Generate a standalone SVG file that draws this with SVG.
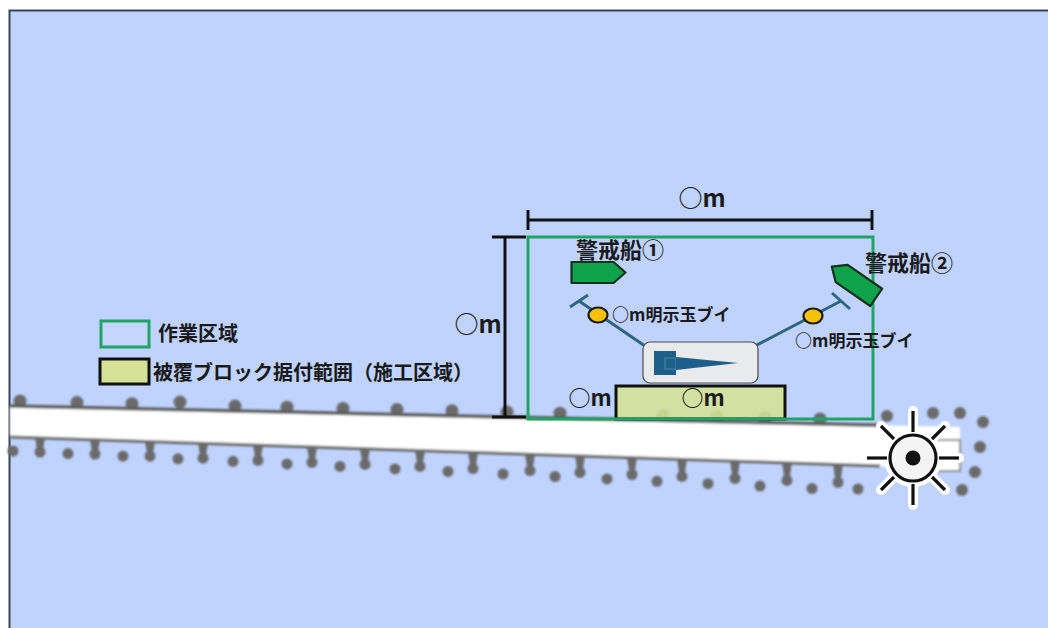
<svg xmlns="http://www.w3.org/2000/svg" width="1048" height="628" viewBox="0 0 1048 628">
  <style>
    .jp { font-family: "Noto Sans CJK JP", "Noto Sans", sans-serif; fill: #1a1a1a; font-weight: 700; }
    .dim { stroke: #111; stroke-width: 3; fill: none; }
    .dot { fill: #6b6b6b; }
    .anchor { stroke: #2e6580; stroke-width: 3; fill: none; }
    .buoy { fill: #f6c10a; stroke: #1a1a1a; stroke-width: 2.2; }
    .ship { fill: #0fa24b; stroke: #15301d; stroke-width: 2.2; stroke-linejoin: round; }
  </style>
  <defs>
    <!-- patrol boat hull, bow pointing +x, centred on origin -->
    <polygon id="boat" points="-27,-10.5 15,-10.5 27,0 15,10.5 -27,10.5"/>
    <filter id="soft" x="-5%" y="-20%" width="110%" height="140%">
      <feGaussianBlur stdDeviation="0.8"/>
    </filter>
  </defs>

  <!-- sea and frame -->
  <rect x="0" y="0" width="1048" height="628" fill="#ffffff"/>
  <rect x="9" y="10" width="1039" height="618" fill="#bfd3fe"/>
  <path d="M9.5 628 V10.5 H1048" fill="none" stroke="#3b4758" stroke-width="2"/>

  <!-- breakwater -->
  <g id="breakwater" filter="url(#soft)">
    <!-- armour units along the outer face -->
    <g class="dot">
      <circle cx="20" cy="401" r="6.5"/>
      <circle cx="77" cy="402.5" r="6.5"/>
      <circle cx="132" cy="403.7" r="6.5"/>
      <circle cx="180" cy="402" r="6.5"/>
      <circle cx="235" cy="406" r="6.5"/>
      <circle cx="287" cy="407.2" r="6.5"/>
      <circle cx="343" cy="408.4" r="6.5"/>
      <circle cx="397" cy="409.6" r="6.5"/>
      <circle cx="452" cy="410.8" r="6.5"/>
      <circle cx="507" cy="412" r="6.5"/>
      <circle cx="560" cy="413.2" r="6.5"/>
      <circle cx="663" cy="415.4" r="6.5"/>
      <circle cx="717" cy="416.6" r="6.5"/>
      <circle cx="765" cy="417.7" r="6.5"/>
      <circle cx="820" cy="418.9" r="6.5"/>
      <circle cx="887" cy="416" r="6"/>
      <circle cx="933" cy="413" r="6"/>
      <circle cx="960" cy="413" r="6"/>
      <circle cx="983" cy="422" r="6"/>
      <circle cx="980" cy="447" r="6"/>
      <circle cx="975" cy="472" r="6"/>
      <circle cx="962" cy="490" r="6"/>
    </g>
    <!-- armour units along the inner face -->
    <g class="dot">
      <path d="M35,438 H45 L42.5,452 H37.5 Z"/><circle cx="40" cy="452" r="5.5"/>
      <path d="M90,440 H100 L97.5,454 H92.5 Z"/><circle cx="95" cy="454" r="5.5"/>
      <path d="M145,442 H155 L152.5,456 H147.5 Z"/><circle cx="150" cy="456.2" r="5.5"/>
      <path d="M198,443.5 H208 L205.5,458 H200.5 Z"/><circle cx="203" cy="458.2" r="5.5"/>
      <path d="M253,445 H263 L260.5,460 H255.5 Z"/><circle cx="258" cy="460.3" r="5.5"/>
      <path d="M307,447 H317 L314.5,462 H309.5 Z"/><circle cx="312" cy="462.3" r="5.5"/>
      <path d="M360,449 H370 L367.5,464 H362.5 Z"/><circle cx="365" cy="464.4" r="5.5"/>
      <path d="M415,450.5 H425 L422.5,466 H417.5 Z"/><circle cx="420" cy="466.4" r="5.5"/>
      <path d="M468,452 H478 L475.5,468 H470.5 Z"/><circle cx="473" cy="468.5" r="5.5"/>
      <path d="M525,454 H535 L532.5,470 H527.5 Z"/><circle cx="530" cy="470.6" r="5.5"/>
      <path d="M575,455.5 H585 L582.5,472 H577.5 Z"/><circle cx="580" cy="472.5" r="5.5"/>
      <path d="M627,457 H637 L634.5,474 H629.5 Z"/><circle cx="632" cy="474.5" r="5.5"/>
      <path d="M677,458.5 H687 L684.5,476 H679.5 Z"/><circle cx="682" cy="476.4" r="5.5"/>
      <path d="M730,460.5 H740 L737.5,478 H732.5 Z"/><circle cx="735" cy="478.4" r="5.5"/>
      <path d="M782,462 H792 L789.5,480 H784.5 Z"/><circle cx="787" cy="480.4" r="5.5"/>
      <path d="M833,463.5 H843 L840.5,482 H835.5 Z"/><circle cx="838" cy="482.3" r="5.5"/>
    </g>
    <!-- toe blocks -->
    <g class="dot">
      <circle cx="13" cy="451" r="5.5"/>
      <circle cx="68" cy="453.6" r="5.5"/>
      <circle cx="123" cy="456.2" r="5.5"/>
      <circle cx="178" cy="458.8" r="5.5"/>
      <circle cx="233" cy="461.3" r="5.5"/>
      <circle cx="287" cy="463.9" r="5.5"/>
      <circle cx="340" cy="466.4" r="5.5"/>
      <circle cx="395" cy="468.9" r="5.5"/>
      <circle cx="448" cy="471.4" r="5.5"/>
      <circle cx="503" cy="474" r="5.5"/>
      <circle cx="555" cy="476.5" r="5.5"/>
      <circle cx="607" cy="478.9" r="5.5"/>
      <circle cx="657" cy="481.3" r="5.5"/>
      <circle cx="708" cy="483.7" r="5.5"/>
      <circle cx="760" cy="486.1" r="5.5"/>
      <circle cx="812" cy="488.6" r="5.5"/>
      <circle cx="858" cy="489" r="5.5"/>
    </g>
    <!-- crown -->
    <polygon points="10,406 960,427 960,469 10,437" fill="#ffffff"/>
    <line x1="10" y1="406" x2="880" y2="425.3" stroke="#5c5c5c" stroke-width="3.5"/>
    <line x1="10" y1="437" x2="880" y2="466" stroke="#6a6a6a" stroke-width="3"/>
    <rect x="930" y="440" width="30" height="31" fill="#ffffff" stroke="#8a8a8a" stroke-width="2"/>
  </g>

  <!-- lighthouse at the head of the breakwater -->
  <g id="lighthouse" transform="translate(913,458)">
    <g stroke="#ffffff" stroke-width="10" stroke-linecap="round" fill="#ffffff">
      <circle r="24"/>
      <line x1="0" y1="-27" x2="0" y2="-47"/>
      <line x1="0" y1="27" x2="0" y2="47"/>
      <line x1="-27" y1="0" x2="-46" y2="0"/>
      <line x1="27" y1="0" x2="46" y2="0"/>
      <line x1="-20" y1="-20" x2="-32" y2="-32"/>
      <line x1="20" y1="-20" x2="32" y2="-32"/>
      <line x1="-20" y1="20" x2="-32" y2="32"/>
      <line x1="20" y1="20" x2="32" y2="32"/>
    </g>
    <g stroke="#111" stroke-width="3.2" fill="none">
      <circle r="23" fill="#f4f4f4"/>
      <line x1="0" y1="-26" x2="0" y2="-47"/>
      <line x1="0" y1="26" x2="0" y2="47"/>
      <line x1="-26" y1="0" x2="-46" y2="0"/>
      <line x1="26" y1="0" x2="46" y2="0"/>
      <line x1="-19" y1="-19" x2="-32" y2="-32"/>
      <line x1="19" y1="-19" x2="32" y2="-32"/>
      <line x1="-19" y1="19" x2="-32" y2="32"/>
      <line x1="19" y1="19" x2="32" y2="32"/>
    </g>
    <circle r="7.5" fill="#111"/>
  </g>

  <!-- block placement area -->
  <g id="placement-area">
    <rect x="616" y="386" width="169" height="33" fill="#d5e195" fill-opacity="0.88" stroke="#111" stroke-width="3"/>
    <text class="jp" x="703" y="406" font-size="22" text-anchor="middle">○m</text>
  </g>
  <text class="jp" x="590" y="406" font-size="22" text-anchor="middle">○m</text>

  <!-- work area -->
  <rect id="work-area" x="528" y="237" width="345" height="182" fill="none" stroke="#1fa463" stroke-width="3"/>

  <!-- dimensions -->
  <g id="dimensions">
    <path class="dim" d="M528 220 H872 M528 210 V230 M872 210 V230"/>
    <text class="jp" x="702" y="207" font-size="24" text-anchor="middle">○m</text>
    <path class="dim" d="M505 237 V417 M492 237 H526 M492 417 H526"/>
    <text class="jp" x="478" y="333" font-size="24" text-anchor="middle">○m</text>
  </g>

  <!-- mooring lines -->
  <g id="connectors">
    <line class="anchor" x1="645" y1="346" x2="579" y2="301"/>
    <line class="anchor" x1="570" y1="307" x2="588" y2="295"/>
    <line class="anchor" x1="755" y1="346" x2="841" y2="301"/>
    <line class="anchor" x1="832" y1="293" x2="850" y2="309"/>
  </g>

  <!-- buoys -->
  <g id="buoy-1">
    <ellipse class="buoy" cx="598" cy="315" rx="9.5" ry="7.5"/>
    <text class="jp" x="612" y="321" font-size="17">○m明示玉ブイ</text>
  </g>
  <g id="buoy-2">
    <ellipse class="buoy" cx="813" cy="316" rx="9.5" ry="7.5"/>
    <text class="jp" x="795" y="347" font-size="17">○m明示玉ブイ</text>
  </g>

  <!-- work vessel -->
  <g id="work-vessel">
    <rect x="643" y="342" width="115" height="41" rx="7" fill="#e8eaec" stroke="#4a4a4a" stroke-width="1.2"/>
    <rect x="654" y="351" width="22" height="24" fill="#1d5f88"/>
    <rect x="665" y="358" width="11" height="11" fill="none" stroke="#4a88aa" stroke-width="1"/>
    <polygon points="676,357 738,363 676,370" fill="#1d5f88"/>
  </g>

  <!-- patrol boats -->
  <g id="patrol-1">
    <use href="#boat" class="ship" transform="translate(598.5,272.5)"/>
    <text class="jp" x="576" y="258" font-size="22">警戒船①</text>
  </g>
  <g id="patrol-2">
    <use href="#boat" class="ship" transform="translate(854,282) rotate(214.7)"/>
    <text class="jp" x="865" y="271" font-size="22">警戒船②</text>
  </g>

  <!-- legend -->
  <g id="legend">
    <rect x="101" y="321" width="48" height="26" fill="#c4d6fb" stroke="#1fa463" stroke-width="3"/>
    <text class="jp" x="158" y="341" font-size="20">作業区域</text>
    <rect x="100" y="359" width="49" height="25" fill="#d5e195" stroke="#111" stroke-width="3"/>
    <text class="jp" x="153" y="380" font-size="20">被覆ブロック据付範囲（施工区域）</text>
  </g>
</svg>
